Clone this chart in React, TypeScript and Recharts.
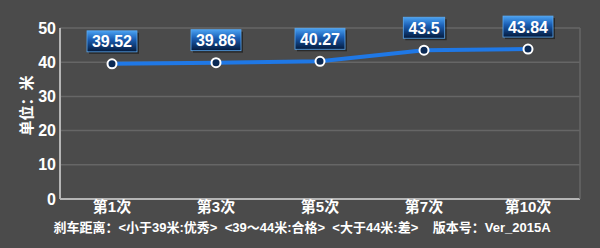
import { CartesianGrid, LabelList, Line, LineChart, XAxis, YAxis } from "recharts";

const rounds = ["第1次", "第3次", "第5次", "第7次", "第10次"];
const brakeDistance = [39.52, 39.86, 40.27, 43.5, 43.84];
const yTicks = [0, 10, 20, 30, 40, 50];
const yUnit = "单位：米";
const footNote = "刹车距离：<小于39米:优秀>  <39～44米:合格>  <大于44米:差>    版本号：Ver_2015A";

const data = rounds.map((name, i) => ({ name, value: brakeDistance[i] }));

const FONT = "'Liberation Sans', 'Noto Sans CJK SC', sans-serif";

// blue badge sitting above each point
function ValueBadge(props: any) {
  const { x, y, value } = props;
  const text = String(value);
  const w = text.length * 8.6 + 7;
  const h = 21;
  const top = y - 33;
  return (
    <g>
      <rect x={x - w / 2 + 2} y={top + 2} width={w} height={h} fill="#000" opacity={0.45} />
      <rect
        x={x - w / 2}
        y={top}
        width={w}
        height={h}
        fill="url(#badgeFill)"
        stroke="#5aa8f0"
        strokeWidth={0.8}
      />
      <text
        x={x}
        y={top + h / 2 + 6}
        textAnchor="middle"
        fill="#fff"
        fontSize={16}
        fontWeight="bold"
        fontFamily={FONT}
      >
        {text}
      </text>
    </g>
  );
}

function UnitLabel(props: any) {
  const { viewBox } = props;
  const cy = viewBox.y + viewBox.height / 2 - 8;
  return (
    <text
      x={26}
      y={cy}
      transform={`rotate(-90, 26, ${cy})`}
      textAnchor="middle"
      dominantBaseline="central"
      fill="#fff"
      fontSize={15}
      fontWeight="bold"
      fontFamily={FONT}
    >
      {yUnit}
    </text>
  );
}

function FootLabel(props: any) {
  const { viewBox } = props;
  return (
    <text
      x={302}
      y={viewBox.y + 33}
      textAnchor="middle"
      fill="#fff"
      fontSize={13}
      fontWeight="bold"
      fontFamily={FONT}
      style={{ whiteSpace: "pre" }}
    >
      {footNote}
    </text>
  );
}

export default function App() {
  return (
    <div style={{ width: 600, height: 248, background: "#4b4b4b", position: "absolute", left: 0, top: 0 }}>
      <style>{"body{margin:0;background:#4b4b4b}"}</style>
      <LineChart width={600} height={248} data={data} margin={{ top: 28, right: 0, bottom: 19, left: 0 }}>
        <defs>
          <linearGradient id="badgeFill" x1="0" y1="0" x2="0" y2="1">
            <stop offset="0%" stopColor="#4aa2f2" />
            <stop offset="40%" stopColor="#1b5fb5" />
            <stop offset="100%" stopColor="#041a3c" />
          </linearGradient>
        </defs>
        <CartesianGrid vertical={false} stroke="#666666" strokeWidth={1.5} />
        <XAxis
          dataKey="name"
          height={30}
          padding={{ left: 52, right: 52 }}
          axisLine={{ stroke: "#b5b5b5", strokeWidth: 2 }}
          tickLine={false}
          tickSize={0}
          tickMargin={2}
          tick={{ fill: "#fff", fontSize: 15, fontWeight: "bold", fontFamily: FONT }}
          label={<FootLabel />}
        />
        <YAxis
          domain={[0, 50]}
          ticks={yTicks}
          width={60}
          axisLine={{ stroke: "#b5b5b5", strokeWidth: 2 }}
          tickLine={false}
          tickSize={0}
          tickMargin={4}
          tick={{ fill: "#fff", fontSize: 16, fontWeight: "bold", fontFamily: FONT }}
          label={<UnitLabel />}
        />
        <YAxis
          yAxisId="frame"
          orientation="right"
          width={20}
          tick={false}
          tickLine={false}
          axisLine={{ stroke: "#666666", strokeWidth: 1.5 }}
        />
        <Line
          dataKey="value"
          stroke="#1f78e6"
          strokeWidth={4}
          dot={{ r: 4.5, fill: "#0b2a55", stroke: "#fff", strokeWidth: 2 }}
          isAnimationActive={false}
        >
          <LabelList dataKey="value" content={<ValueBadge />} />
        </Line>
      </LineChart>
    </div>
  );
}
